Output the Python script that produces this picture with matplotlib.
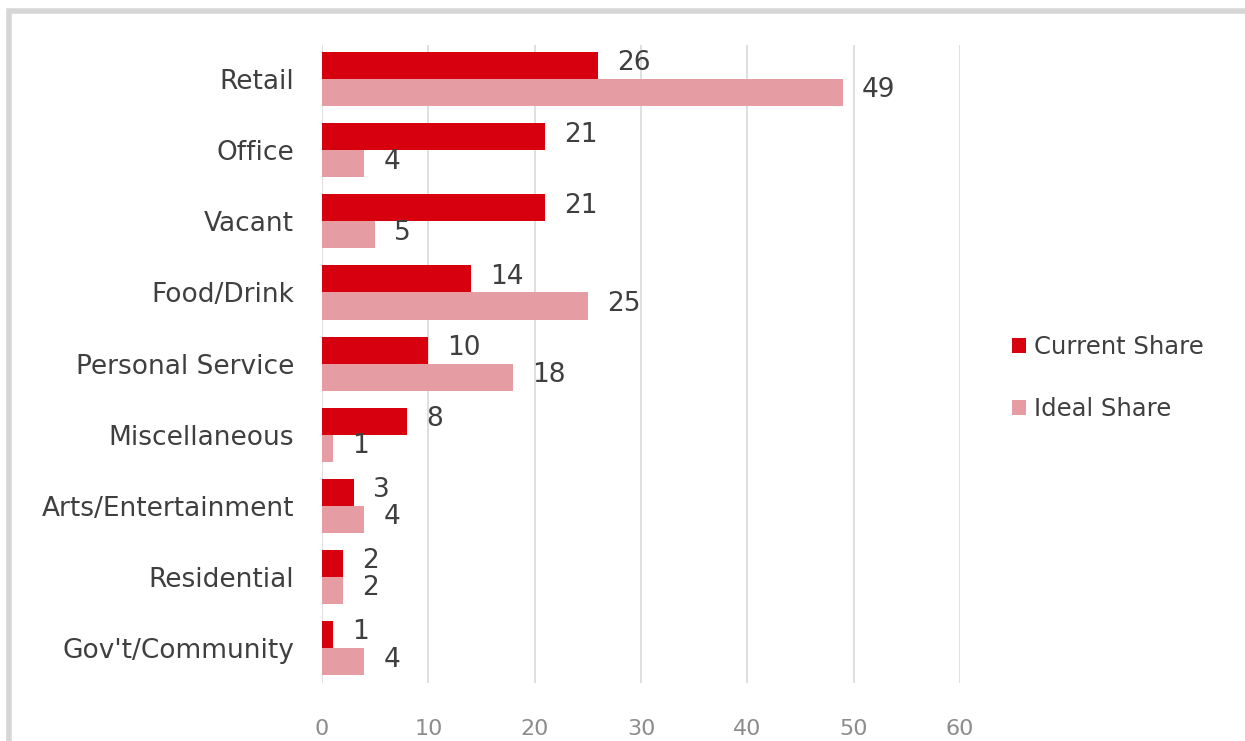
import numpy as np
import matplotlib.pyplot as plt
from matplotlib.patches import Rectangle

categories = ["Retail", "Office", "Vacant", "Food/Drink", "Personal Service",
              "Miscellaneous", "Arts/Entertainment", "Residential", "Gov't/Community"]
current_share = [26, 21, 21, 14, 10, 8, 3, 2, 1]
ideal_share = [49, 4, 5, 25, 18, 1, 4, 2, 4]
xticks = [0, 10, 20, 30, 40, 50, 60]

red = "#D6000F"
pink = "#E59CA2"
txt = "#3F3F3F"

fig = plt.figure(figsize=(12.45, 7.41), dpi=100)
ax = fig.add_axes([0.2586, 0.0783, 0.5125, 0.861])

y = np.arange(len(categories))
h = 0.38
ax.barh(y - h / 2, current_share, height=h, color=red, label="Current Share", zorder=3)
ax.barh(y + h / 2, ideal_share, height=h, color=pink, label="Ideal Share", zorder=3)

# valores al lado de cada barra
for i in range(len(categories)):
    ax.text(current_share[i] + 1.8, y[i] - h / 2 - 0.03, str(current_share[i]),
            va="center", ha="left", fontsize=19, color=txt, zorder=4)
    ax.text(ideal_share[i] + 1.8, y[i] + h / 2 - 0.03, str(ideal_share[i]),
            va="center", ha="left", fontsize=19, color=txt, zorder=4)

ax.set_xlim(0, 60)
ax.set_ylim(8.49, -0.48)
ax.set_xticks(xticks)
ax.set_yticks(y)
ax.set_yticklabels(categories, fontsize=19, color=txt)
ax.tick_params(axis="x", labelsize=16, labelcolor="#8C8C8C", length=0, pad=26)
ax.tick_params(axis="y", length=0, pad=20)
ax.grid(axis="x", color="#D9D9D9", linewidth=1.2, zorder=0)
for s in ax.spines.values():
    s.set_visible(False)

ax.legend(loc="center left", bbox_to_anchor=(1.047, 0.478), frameon=False,
          fontsize=17.5, labelcolor=txt, handlelength=0.6, handleheight=0.6,
          handletextpad=0.3, labelspacing=1.55)

# marco gris arriba y a la izquierda
fig.patches.append(Rectangle((9 / 1245, -0.1), 1.2, 1 - 10.5 / 741 + 0.1,
                             transform=fig.transFigure, fill=False,
                             edgecolor="#D6D6D6", linewidth=4))

fig.savefig("out.png", dpi=100)
